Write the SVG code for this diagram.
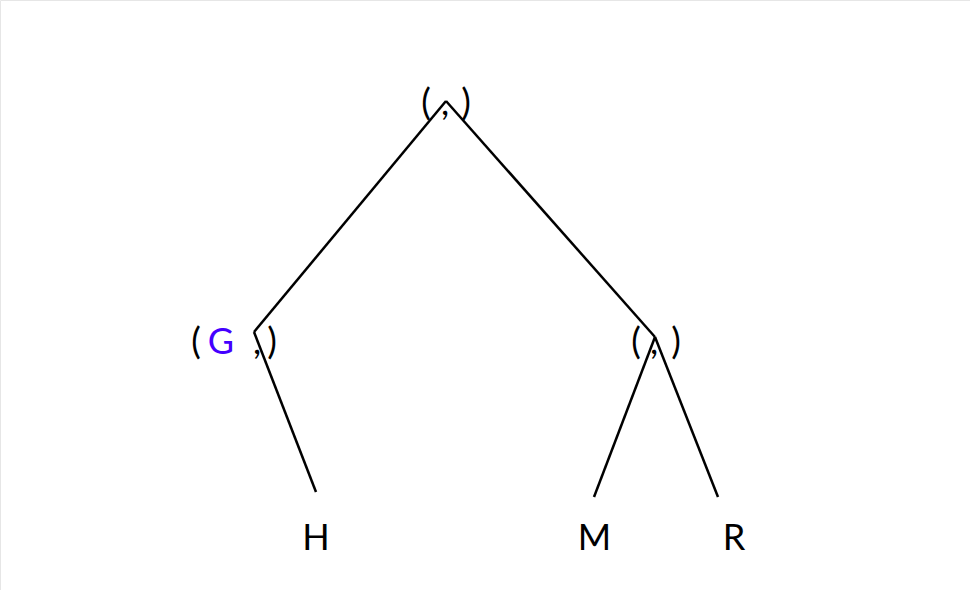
<svg xmlns="http://www.w3.org/2000/svg" width="970" height="590" viewBox="0 0 970 590">
<style>
  .t { font-family: Lato, "Noto Sans", "Liberation Sans", sans-serif; font-size: 36px; fill: #000; text-anchor: middle; }
  .hl { fill: #4400ff; }
  .edge { stroke: #000; stroke-width: 2.5; fill: none; stroke-linecap: butt; }
</style>
<rect x="0" y="0" width="970" height="590" fill="#fff"/>
<path d="M0.5 590 V0.5 H970" stroke="#e6e6e6" stroke-width="1" fill="none"/>
<g id="connectors">
  <line class="edge" x1="446" y1="101" x2="254" y2="332"/>
  <line class="edge" x1="446" y1="101" x2="655" y2="337"/>
  <line class="edge" x1="254" y1="332" x2="316" y2="492"/>
  <line class="edge" x1="655" y1="337" x2="594" y2="497"/>
  <line class="edge" x1="655" y1="337" x2="718" y2="497"/>
</g>
<g id="root">
  <text class="t" x="426" y="115">(</text>
  <text class="t" x="445" y="115">,</text>
  <text class="t" x="466" y="115">)</text>
</g>
<g id="left">
  <text class="t" x="196" y="354">(</text>
  <text class="t hl" x="221" y="354">G</text>
  <text class="t" x="257" y="354">,</text>
  <text class="t" x="272" y="354">)</text>
</g>
<g id="right">
  <text class="t" x="636" y="354">(</text>
  <text class="t" x="654" y="354">,</text>
  <text class="t" x="676" y="354">)</text>
</g>
<g id="H"><text class="t" x="316" y="550">H</text></g>
<g id="M"><text class="t" x="594.5" y="550">M</text></g>
<g id="R"><text class="t" x="734" y="550">R</text></g>
</svg>
